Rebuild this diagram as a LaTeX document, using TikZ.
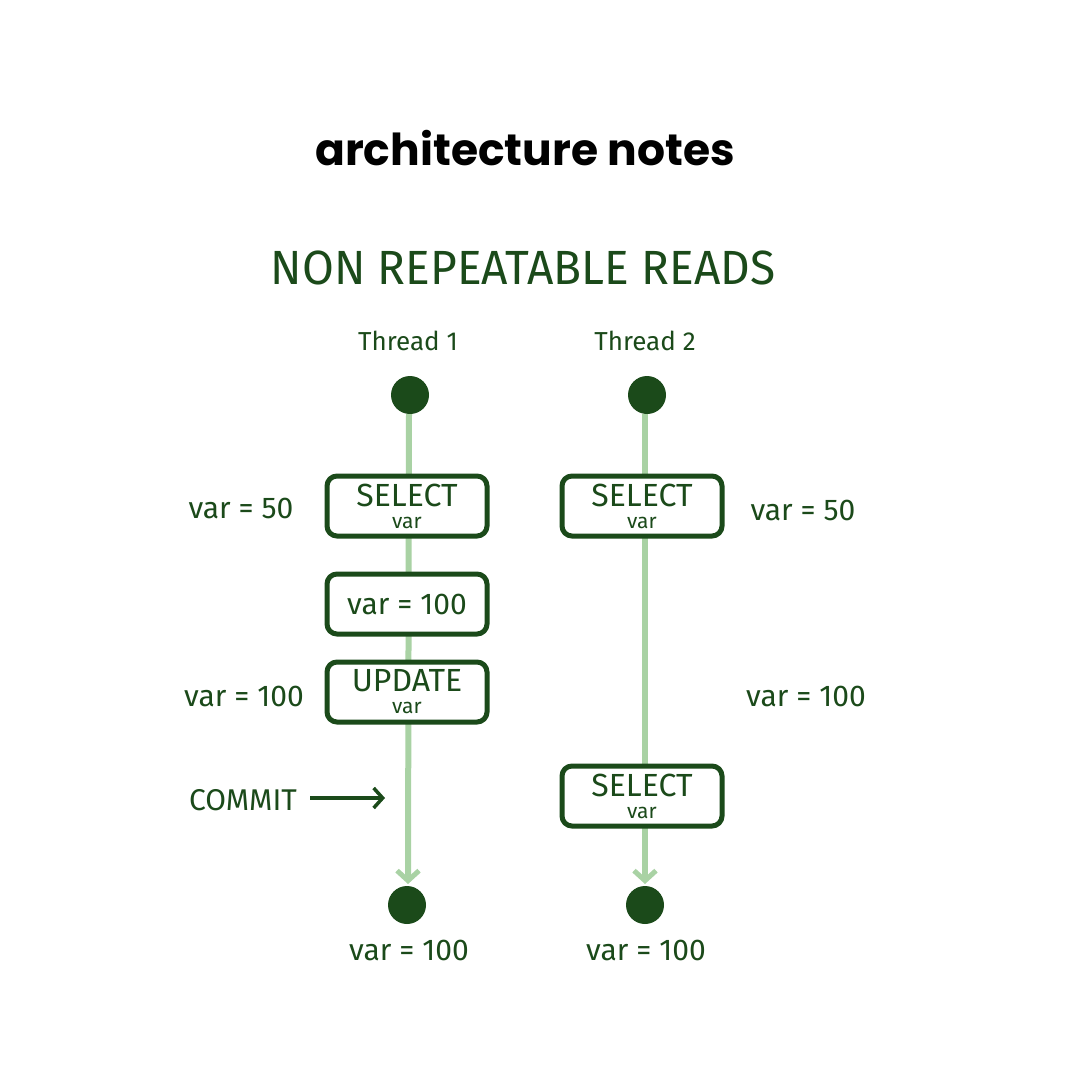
\documentclass[tikz,border=0pt]{standalone}
\usepackage{fontspec}
\setmainfont{Fira Sans}
\newfontfamily\titlefont{Poppins}
\usetikzlibrary{arrows.meta}
\definecolor{dg}{HTML}{1B4A1A}
\definecolor{lg}{HTML}{A9D2A4}
\tikzset{
  opbox/.style={draw=dg, line width=5pt, rounded corners=10pt, minimum width=160pt, minimum height=60pt, text=dg, align=center, inner sep=0pt, fill=white, font=\fontsize{32}{22}\selectfont},
  lbl/.style={text=dg, font=\fontsize{30}{32}\selectfont},
  dot/.style={circle, fill=dg, minimum size=38pt, inner sep=0pt},
  life/.style={draw=lg, line width=6pt, -{Straight Barb[length=10pt,width=22pt,line width=5pt]}},
}
\newcommand{\boxtext}[2]{#1\\[0pt]{\fontsize{21}{20}\selectfont #2}}
\begin{document}
\begin{tikzpicture}[x=1pt,y=-1pt]
\path[use as bounding box, fill=white] (0,0) rectangle (1080,1080);
\node[font=\titlefont\bfseries\fontsize{44}{48}\selectfont, text=black] (title) at (525,148) {architecture notes};
\node[text=dg, font=\fontsize{48}{52}\selectfont, xscale=0.96] (heading) at (523,268) {NON REPEATABLE READS};
\node[text=dg, font=\fontsize{26}{28}\selectfont] (t1) at (408,341) {Thread 1};
\node[text=dg, font=\fontsize{26}{28}\selectfont] (t2) at (645,341) {Thread 2};
\node[dot] (s1) at (410,395) {};
\node[dot] (s2) at (647,395) {};
\node[dot] (e1) at (407,905) {};
\node[dot] (e2) at (645,905) {};
\coordinate (a1) at (408,884);
\coordinate (a2) at (645,884);
\draw[life] (s1.south) ++(-1,0) coordinate (s1b) -- (a1);
\draw[life] (s2.south) ++(-2,0) coordinate (s2b) -- (a2);
\node[opbox] (b1) at (407,506) {\boxtext{SELECT}{var}};
\node[opbox, font=\fontsize{30}{32}\selectfont] (b2) at (407,604) {var = 100};
\node[opbox] (b3) at (407,692) {\boxtext{UPDATE}{var}};
\node[opbox] (c1) at (642,506) {\boxtext{SELECT}{var}};
\node[opbox] (c2) at (642,796) {\boxtext{SELECT}{var}};
\node[lbl] (l1) at (241,508) {var = 50};
\node[lbl] (l2) at (244,696) {var = 100};
\node[lbl] (commit) at (243,800) {COMMIT};
\coordinate (cm) at (385,798);
\draw[dg, line width=4pt, -{Straight Barb[length=9pt,width=20pt,line width=3.5pt]}] (commit.east) ++(10,-2) -- (cm);
\node[lbl] (r1) at (803,510) {var = 50};
\node[lbl] (r2) at (806,696) {var = 100};
\node[lbl] (f1) at (409,950) {var = 100};
\node[lbl] (f2) at (646,950) {var = 100};
\end{tikzpicture}
\end{document}
